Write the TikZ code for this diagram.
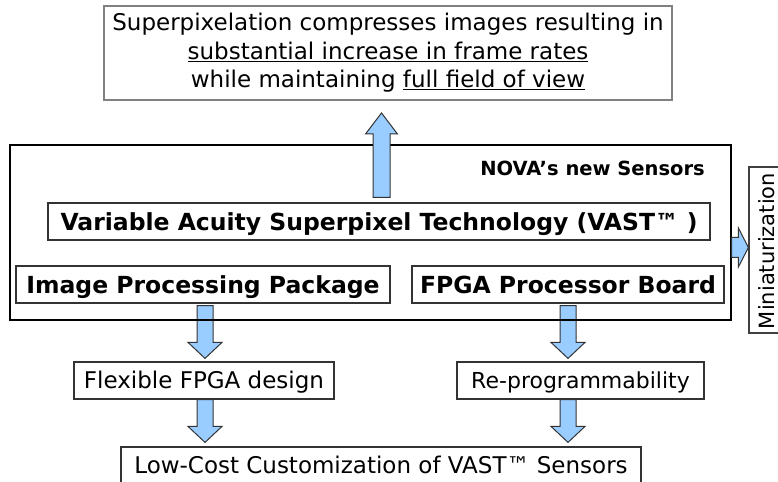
\documentclass[tikz,border=0pt]{standalone}
\usepackage{fontspec}
\setmainfont{DejaVu Sans}
\usetikzlibrary{calc,backgrounds}
\definecolor{arrowfill}{HTML}{99CCFF}
\newcommand{\varrow}[5]{%
 \path[blockarrow] let \p1=#1, \p2=#2, \n1={sign(\y2-\y1)} in
 ({\x1-#3},{\y1}) -- ({\x1-#3},{\y2-\n1*#5}) -- ({\x1-#4},{\y2-\n1*#5}) -- ({\x1},{\y2})
 -- ({\x1+#4},{\y2-\n1*#5}) -- ({\x1+#3},{\y2-\n1*#5}) -- ({\x1+#3},{\y1}) -- cycle;}
\newcommand{\harrow}[5]{%
 \path[blockarrow] let \p1=#1, \p2=#2, \n1={sign(\x2-\x1)} in
 ({\x1},{\y1-#3}) -- ({\x2-\n1*#5},{\y1-#3}) -- ({\x2-\n1*#5},{\y1-#4}) -- ({\x2},{\y1})
 -- ({\x2-\n1*#5},{\y1+#4}) -- ({\x2-\n1*#5},{\y1+#3}) -- ({\x1},{\y1+#3}) -- cycle;}
\begin{document}
\begin{tikzpicture}[x=1bp,y=-1bp,
  boxstyle/.style={draw=black!80, line width=1.2bp, inner sep=0pt, minimum height=37bp, text height=16.8bp, text depth=0pt},
  regtext/.style={font=\fontsize{23bp}{28.5bp}\selectfont},
  boldtext/.style={font=\fontsize{23.5bp}{28bp}\selectfont\bfseries, text height=17.1bp},
  blockarrow/.style={fill=arrowfill, draw=black!80, line width=1bp, line join=miter},
]
\useasboundingbox (0,0) rectangle (778,482);

\node[draw=black!50, line width=2bp, minimum width=568bp, minimum height=94bp, inner sep=0pt, align=center, regtext] (top) at (388,53)
 {Superpixelation compresses images resulting in\\ \underline{substantial increase in frame rates}\\ while maintaining \underline{full field of view}};

\node[draw=black, line width=1.2bp, minimum width=721bp, minimum height=175bp, inner sep=0pt] (main) at (370.5,232.5) {};
\node[font=\fontsize{19.5bp}{22bp}\selectfont\bfseries, anchor=base east, inner sep=0pt] (nova) at (705,176) {NOVA’s new Sensors};

\node[boxstyle, boldtext, minimum width=662bp] (vast) at (379,221.5) {Variable Acuity Superpixel Technology (VAST™ )};
\node[boxstyle, boldtext, minimum width=374bp] (ipp) at (203,284.5) {Image Processing Package};
\node[boxstyle, boldtext, minimum width=312bp] (fpga) at (568,284.5) {FPGA Processor Board};
\node[boxstyle, regtext, minimum width=260bp] (flex) at (204,380.5) {Flexible FPGA design};
\node[boxstyle, font=\fontsize{22bp}{26bp}\selectfont, text height=16bp, minimum width=247bp] (reprog) at (580.5,380.5) {Re-programmability};
\node[boxstyle, regtext, minimum width=520bp] (low) at (381,465.5) {Low-Cost Customization of VAST™ Sensors};
\node[draw=black!75, line width=1.2bp, minimum width=44bp, minimum height=166bp, inner sep=0pt] (mini) at (771,250) {};
\node[rotate=90, anchor=base, inner sep=0pt, font=\fontsize{21bp}{26bp}\selectfont] (minitext) at ($(mini.center)+(3,1)$) {Miniaturization};

% up arrow
\coordinate (upS) at ($(vast.north)+(2.5,-5)$);
\coordinate (upT) at ($(upS |- top.south)+(0,12)$);
\varrow{(upS)}{(upT)}{8.5bp}{16bp}{21bp}

% right arrow
\coordinate (rT) at ($(mini.west)+(0,-2.5)$);
\coordinate (rS) at (main.east |- rT);
\harrow{(rS)}{(rT)}{10bp}{19.5bp}{10bp}

% down arrows
\coordinate (d1S) at ($(ipp.south)+(2,2)$);
\coordinate (d1T) at ($(d1S |- flex.north)+(0,-3)$);
\coordinate (d2S) at (d1S |- flex.south);
\coordinate (d2T) at ($(d2S |- low.north)+(0,-4)$);
\coordinate (d3S) at ($(fpga.south)+(0,2)$);
\coordinate (d3T) at ($(d3S |- reprog.north)+(0,-3)$);
\coordinate (d4S) at (d3S |- reprog.south);
\coordinate (d4T) at ($(d4S |- low.north)+(0,-4)$);
\begin{scope}[on background layer]
\varrow{(d1S)}{(d1T)}{8bp}{17bp}{16bp}
\varrow{(d2S)}{(d2T)}{8bp}{17bp}{16bp}
\varrow{(d3S)}{(d3T)}{8bp}{17bp}{16bp}
\varrow{(d4S)}{(d4T)}{8bp}{17bp}{16bp}
\end{scope}
\end{tikzpicture}
\end{document}
